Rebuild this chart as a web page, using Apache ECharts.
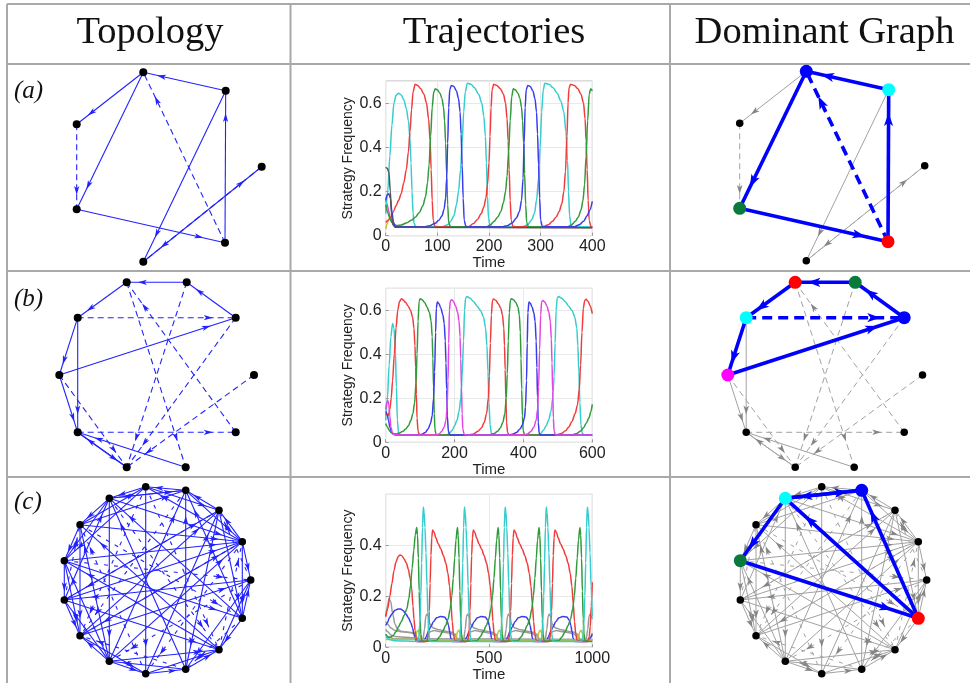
<!DOCTYPE html>
<html><head><meta charset="utf-8">
<script src="https://cdn.jsdelivr.net/npm/echarts@6/dist/echarts.min.js"></script>
<style>html,body{margin:0;padding:0;background:#fff}#c{width:970px;height:683px}</style>
</head><body><div id="c"></div>
<script>
// ---------- texts ----------
const headers = ['Topology', 'Trajectories', 'Dominant Graph'];
const rowLabels = ['(a)', '(b)', '(c)'];

// ---------- network layouts (local layout units) ----------
const aNodes = [[136.3,8.3],[218.7,26.7],[69.7,60.3],[254.7,102.7],[69.7,145.3],[218,178.7],[136.3,197.7]];
const aEdges = [[1,0,0],[0,2,0],[0,4,0],[2,4,1],[4,5,0],[5,1,0],[5,0,1],[1,6,0],[6,3,0],[3,6,1]];
const aDominant = {0:'#0000ff',1:'#00ffff',4:'#0a7a3c',5:'#ff0000'};

const bNodes = [[119.7,12.3],[179.7,12.3],[70.7,47.7],[228.7,47.7],[52.3,105],[247,105],[70.7,162.3],[228.7,162.3],[119.7,197.3],[178.7,197.3]];
const bEdges = [[1,0,0],[3,1,0],[0,2,0],[2,4,0],[4,3,0],[2,3,1],[2,6,0],[4,6,0],[9,6,0],[6,8,0],[8,6,0],[4,8,1],[6,7,1],[0,9,1],[7,0,1],[1,8,1],[3,8,1],[5,8,1]];
const bDominant = {0:'#ff0000',1:'#0a7a3c',2:'#00ffff',3:'#0000ff',4:'#ff00ff'};

const cNodes = [[138.7,10.7],[178.7,14.3],[212,34.3],[235.3,65.7],[243.7,104],[235.3,142.3],[212,173.7],[178.7,193.3],[138.7,197.7],[102.3,185.3],[73,159.7],[57.3,124],[57.3,84.7],[73,48.7],[102.3,22.3]];
const cEdges = [
 [1,0,0],[2,1,0],[3,2,0],[3,4,0],[5,4,0],[5,6,0],[7,6,0],[8,7,0],[9,8,0],[9,10,0],[11,10,0],[12,11,0],[13,12,0],[14,13,0],[0,14,0],
 [0,2,0],[1,3,0],[4,2,1],[3,5,0],[6,4,0],[5,7,1],[8,6,0],[7,9,0],[10,8,0],[9,11,0],[12,10,0],[11,13,1],[14,12,0],[13,0,0],[1,14,0],[14,1,0],
 [3,0,0],[2,5,0],[6,3,1],[4,7,0],[9,6,0],[7,10,1],[9,12,0],[13,10,0],[11,14,0],[13,1,0],[0,12,0],
 [0,8,0],[7,1,0],[13,3,0],[12,3,0],[11,3,0],[10,3,0],[9,3,0],[14,3,0],[11,2,0],[10,2,0],[9,1,0],[9,13,0],[8,2,0],[6,12,0],[6,13,0],[4,11,0],[10,4,0],[12,5,0],[5,1,0],[5,14,0],[7,14,0],[11,6,0],[13,5,1],[0,10,1],[3,8,1],[2,11,1],[4,9,1],[14,6,1],[1,10,1],[12,4,1],[8,13,1],[2,7,0],[14,9,0],[0,6,1],[3,10,1]
];
const cDominant = {1:'#0000ff',14:'#00ffff',12:'#0a7a3c',5:'#ff0000'};

// ---------- trajectories (time, frequency) ----------
const aCyan = [[0,0.10],[4,0.2],[8,0.36],[12,0.5],[16,0.6],[20,0.635],[25,0.645],[30,0.637],[35,0.615],[40,0.575],[44,0.52],[47,0.44],[49,0.33],[51,0.2],[53,0.1],[55,0.055],[58,0.042],[65,0.04],[110,0.04],[120,0.05],[126,0.065],[132,0.09],[137,0.14],[141,0.2],[145,0.3],[148,0.42],[151,0.56],[154,0.65],[158,0.69],[165,0.685],[172,0.67],[180,0.64],[186,0.6],[190,0.54],[193,0.45],[195,0.33],[197,0.18],[199,0.08],[202,0.045],[208,0.04],[265,0.04],[275,0.05],[282,0.07],[288,0.1],[292,0.16],[296,0.26],[299,0.4],[302,0.56],[305,0.66],[308,0.69],[316,0.685],[324,0.67],[332,0.645],[339,0.61],[345,0.56],[349,0.47],[352,0.34],[354,0.2],[356,0.09],[359,0.045],[365,0.04],[400,0.04]];
const aRed = [[0,0.06],[5,0.07],[10,0.085],[15,0.11],[20,0.135],[25,0.16],[30,0.19],[35,0.24],[40,0.3],[44,0.38],[47,0.47],[50,0.57],[53,0.65],[57,0.685],[62,0.68],[68,0.665],[74,0.64],[79,0.6],[83,0.53],[86,0.43],[88,0.3],[90,0.16],[92,0.07],[95,0.043],[100,0.04],[160,0.04],[170,0.055],[178,0.075],[185,0.1],[190,0.13],[194,0.17],[197,0.23],[200,0.33],[202,0.45],[204,0.58],[206,0.66],[209,0.685],[215,0.68],[222,0.665],[228,0.64],[232,0.6],[235,0.53],[237,0.43],[239,0.3],[241,0.16],[243,0.07],[246,0.043],[252,0.04],[305,0.04],[315,0.05],[323,0.065],[330,0.085],[336,0.11],[341,0.145],[345,0.2],[348,0.29],[351,0.45],[353,0.6],[355,0.67],[358,0.685],[365,0.68],[372,0.665],[378,0.64],[383,0.6],[386,0.53],[388,0.43],[390,0.3],[392,0.16],[394,0.07],[397,0.043],[400,0.04]];
const aGreen = [[0,0.14],[4,0.105],[8,0.078],[12,0.06],[16,0.05],[22,0.046],[30,0.048],[40,0.058],[50,0.07],[58,0.085],[65,0.105],[72,0.135],[77,0.175],[81,0.24],[84,0.32],[87,0.45],[90,0.58],[93,0.65],[96,0.665],[100,0.66],[105,0.645],[109,0.62],[112,0.58],[114,0.52],[116,0.42],[118,0.28],[120,0.14],[122,0.06],[125,0.042],[130,0.04],[195,0.04],[203,0.05],[210,0.065],[217,0.085],[223,0.11],[228,0.15],[232,0.2],[235,0.27],[238,0.38],[241,0.52],[244,0.63],[247,0.665],[251,0.66],[256,0.645],[260,0.62],[263,0.58],[265,0.52],[267,0.42],[269,0.28],[271,0.14],[273,0.06],[276,0.042],[281,0.04],[352,0.04],[360,0.05],[367,0.065],[373,0.085],[378,0.115],[382,0.16],[385,0.23],[388,0.36],[391,0.52],[394,0.64],[397,0.665],[400,0.655]];
const aBlue = [[0,0.16],[3,0.185],[6,0.19],[9,0.17],[12,0.11],[15,0.06],[19,0.042],[25,0.04],[75,0.04],[85,0.045],[95,0.055],[103,0.07],[109,0.09],[113,0.12],[116,0.17],[118,0.26],[120,0.42],[122,0.58],[124,0.66],[127,0.68],[132,0.675],[137,0.655],[141,0.62],[144,0.56],[146,0.46],[148,0.32],[150,0.17],[152,0.07],[155,0.043],[160,0.04],[225,0.04],[235,0.045],[245,0.058],[253,0.08],[259,0.11],[263,0.16],[266,0.26],[268,0.42],[270,0.58],[272,0.66],[275,0.68],[280,0.675],[285,0.655],[289,0.62],[292,0.56],[294,0.46],[296,0.32],[298,0.17],[300,0.07],[303,0.043],[308,0.04],[365,0.04],[375,0.05],[383,0.065],[390,0.09],[395,0.115],[400,0.155]];
const aBlack = [[0,0.31],[3,0.305],[6,0.29],[9,0.2],[11,0.1],[14,0.05],[18,0.038],[400,0.036]];
const aMagenta = [[0,0.16],[3,0.14],[6,0.11],[9,0.08],[12,0.06],[16,0.045],[22,0.038],[400,0.037]];
const aYellow = [[0,0.03],[3,0.055],[6,0.075],[9,0.08],[12,0.07],[15,0.055],[19,0.042],[25,0.038],[400,0.037]];

const bCyan = [[0,0.1],[5,0.2],[10,0.35],[15,0.48],[20,0.54],[24,0.52],[28,0.42],[31,0.25],[34,0.1],[37,0.045],[42,0.034],[175,0.033],[185,0.04],[193,0.055],[200,0.075],[207,0.1],[213,0.14],[218,0.2],[222,0.3],[226,0.46],[229,0.6],[232,0.655],[236,0.663],[245,0.655],[255,0.64],[265,0.62],[275,0.6],[284,0.57],[290,0.52],[294,0.44],[297,0.32],[300,0.18],[303,0.08],[307,0.04],[313,0.033],[440,0.033],[450,0.04],[458,0.055],[466,0.075],[473,0.1],[480,0.14],[485,0.2],[489,0.3],[492,0.45],[495,0.6],[498,0.655],[502,0.663],[511,0.655],[521,0.64],[531,0.62],[541,0.6],[549,0.57],[555,0.52],[558,0.44],[561,0.32],[564,0.18],[567,0.08],[571,0.04],[577,0.033],[600,0.033]];
const bRed = [[0,0.13],[3,0.125],[6,0.12],[9,0.13],[12,0.15],[16,0.2],[20,0.28],[25,0.4],[30,0.52],[35,0.6],[40,0.64],[46,0.653],[52,0.645],[58,0.635],[65,0.62],[72,0.6],[78,0.57],[82,0.52],[85,0.44],[87,0.34],[89,0.22],[91,0.11],[94,0.05],[98,0.034],[105,0.033],[240,0.033],[255,0.038],[268,0.05],[278,0.065],[286,0.09],[293,0.13],[298,0.2],[301,0.3],[304,0.45],[307,0.58],[310,0.645],[313,0.651],[320,0.645],[327,0.63],[334,0.61],[339,0.58],[343,0.52],[345,0.44],[347,0.33],[349,0.2],[351,0.09],[354,0.045],[358,0.034],[365,0.033],[495,0.033],[510,0.04],[522,0.052],[532,0.07],[541,0.095],[550,0.13],[557,0.17],[562,0.24],[566,0.35],[570,0.5],[574,0.61],[578,0.645],[582,0.65],[588,0.64],[594,0.62],[600,0.585]];
const bGreen = [[0,0.085],[5,0.07],[10,0.055],[15,0.045],[20,0.04],[30,0.038],[40,0.042],[50,0.05],[58,0.06],[66,0.075],[73,0.1],[79,0.13],[84,0.18],[88,0.27],[91,0.4],[94,0.55],[97,0.64],[100,0.653],[106,0.648],[113,0.635],[120,0.615],[127,0.59],[132,0.55],[135,0.48],[137,0.38],[139,0.25],[141,0.13],[143,0.06],[146,0.036],[152,0.033],[300,0.033],[315,0.04],[325,0.05],[333,0.065],[340,0.09],[346,0.13],[350,0.2],[353,0.31],[356,0.46],[359,0.59],[362,0.645],[365,0.653],[371,0.648],[378,0.635],[384,0.615],[388,0.58],[391,0.5],[393,0.38],[395,0.24],[397,0.12],[399,0.055],[403,0.035],[408,0.033],[540,0.033],[555,0.04],[565,0.05],[574,0.065],[582,0.085],[590,0.11],[596,0.14],[600,0.172]];
const bBlue = [[0,0.14],[4,0.13],[8,0.1],[12,0.07],[16,0.05],[22,0.037],[30,0.033],[95,0.033],[105,0.037],[115,0.045],[123,0.06],[130,0.085],[135,0.12],[139,0.2],[142,0.32],[145,0.5],[147,0.61],[150,0.638],[155,0.63],[160,0.61],[166,0.58],[170,0.54],[173,0.46],[175,0.36],[177,0.24],[179,0.12],[182,0.05],[186,0.034],[192,0.033],[355,0.033],[368,0.037],[380,0.045],[390,0.06],[397,0.08],[403,0.11],[406,0.16],[409,0.28],[411,0.45],[413,0.59],[416,0.638],[420,0.632],[425,0.615],[430,0.59],[434,0.55],[437,0.46],[439,0.34],[441,0.2],[443,0.09],[446,0.04],[450,0.033],[600,0.033]];
const bMagenta = [[0,0.15],[3,0.18],[6,0.19],[9,0.17],[12,0.12],[15,0.07],[19,0.045],[25,0.034],[145,0.033],[155,0.038],[163,0.05],[170,0.07],[175,0.1],[178,0.15],[181,0.28],[183,0.45],[185,0.6],[188,0.645],[192,0.648],[197,0.64],[203,0.62],[209,0.59],[213,0.55],[216,0.48],[218,0.38],[220,0.25],[222,0.13],[224,0.06],[228,0.035],[234,0.033],[400,0.033],[412,0.038],[422,0.05],[430,0.068],[437,0.1],[441,0.15],[444,0.25],[447,0.42],[450,0.58],[453,0.64],[457,0.645],[462,0.638],[468,0.62],[474,0.59],[478,0.55],[481,0.47],[483,0.36],[485,0.23],[487,0.11],[489,0.05],[493,0.034],[500,0.033],[600,0.033]];

const cRed = [[0,0.12],[10,0.15],[20,0.2],[30,0.25],[40,0.3],[50,0.335],[60,0.355],[70,0.362],[80,0.357],[90,0.345],[100,0.33],[110,0.305],[118,0.27],[126,0.23],[132,0.16],[137,0.11],[142,0.065],[147,0.035],[155,0.022],
 [199,0.022],[203,0.035],[207,0.07],[211,0.14],[215,0.25],[219,0.36],[223,0.43],[227,0.46],[235,0.45],[242,0.43],[255,0.405],[267,0.385],[279,0.36],[291,0.33],[301,0.29],[309,0.24],[316,0.17],[322,0.1],[328,0.05],[334,0.027],[342,0.022],
 [396,0.022],[400,0.035],[404,0.07],[408,0.14],[412,0.25],[416,0.36],[420,0.43],[424,0.46],[432,0.45],[439,0.43],[452,0.405],[464,0.385],[476,0.36],[488,0.33],[498,0.29],[506,0.24],[513,0.17],[519,0.1],[525,0.05],[531,0.027],[539,0.022],
 [593,0.022],[597,0.035],[601,0.07],[605,0.14],[609,0.25],[613,0.36],[617,0.43],[621,0.46],[629,0.45],[636,0.43],[649,0.405],[661,0.385],[673,0.36],[685,0.33],[695,0.29],[703,0.24],[710,0.17],[716,0.1],[722,0.05],[728,0.027],[736,0.022],
 [791,0.022],[795,0.035],[799,0.07],[803,0.14],[807,0.25],[811,0.36],[815,0.43],[819,0.46],[827,0.45],[834,0.43],[847,0.405],[859,0.385],[871,0.36],[883,0.33],[893,0.29],[901,0.24],[908,0.17],[914,0.1],[920,0.05],[926,0.027],[934,0.022],
 [978,0.022],[985,0.04],[990,0.08],[995,0.16],[1000,0.255]];
const cGreen = [[0,0.05],[10,0.04],[20,0.038],[35,0.045],[50,0.06],[62,0.08],[75,0.1],[90,0.125],[102,0.15],[112,0.19],[120,0.24],[128,0.31],[136,0.38],[143,0.44],[150,0.47],[154,0.44],[158,0.35],[162,0.22],[166,0.11],[170,0.05],[175,0.026],[185,0.022],
 [245,0.025],[260,0.04],[275,0.06],[290,0.085],[302,0.11],[312,0.15],[320,0.2],[327,0.27],[334,0.35],[340,0.42],[347,0.47],[351,0.44],[355,0.35],[359,0.22],[363,0.11],[367,0.05],[372,0.026],[382,0.022],
 [442,0.025],[457,0.04],[472,0.06],[487,0.085],[499,0.11],[509,0.15],[517,0.2],[524,0.27],[531,0.35],[537,0.42],[544,0.47],[548,0.44],[552,0.35],[556,0.22],[560,0.11],[564,0.05],[569,0.026],[579,0.022],
 [640,0.025],[655,0.04],[670,0.06],[685,0.085],[697,0.11],[707,0.15],[715,0.2],[722,0.27],[729,0.35],[735,0.42],[742,0.47],[746,0.44],[750,0.35],[754,0.22],[758,0.11],[762,0.05],[767,0.026],[777,0.022],
 [838,0.025],[853,0.04],[868,0.06],[883,0.085],[895,0.11],[905,0.15],[913,0.2],[920,0.27],[927,0.35],[933,0.42],[940,0.47],[944,0.44],[948,0.35],[952,0.22],[956,0.11],[960,0.05],[965,0.026],[975,0.022],[1000,0.022]];
const cCyan = [[0,0.04],[20,0.03],[40,0.025],[155,0.022],[160,0.04],[165,0.09],[170,0.2],[174,0.33],[178,0.47],[182,0.55],[186,0.53],[190,0.47],[195,0.37],[200,0.24],[205,0.12],[209,0.05],[214,0.025],[222,0.022],
 [354,0.022],[359,0.04],[364,0.09],[369,0.2],[373,0.33],[377,0.47],[381,0.55],[385,0.53],[389,0.47],[394,0.37],[399,0.24],[404,0.12],[408,0.05],[413,0.025],[421,0.022],
 [551,0.022],[556,0.04],[561,0.09],[566,0.2],[570,0.33],[574,0.47],[578,0.55],[582,0.53],[586,0.47],[591,0.37],[596,0.24],[601,0.12],[605,0.05],[610,0.025],[618,0.022],
 [750,0.022],[755,0.04],[760,0.09],[765,0.2],[769,0.33],[773,0.47],[777,0.55],[781,0.53],[785,0.47],[790,0.37],[795,0.24],[800,0.12],[804,0.05],[809,0.025],[817,0.022],
 [949,0.022],[954,0.04],[959,0.09],[964,0.2],[968,0.33],[972,0.47],[976,0.55],[980,0.53],[984,0.47],[989,0.37],[994,0.24],[1000,0.12]];
const cBlue = [[0,0.085],[8,0.095],[18,0.115],[30,0.13],[45,0.145],[60,0.15],[72,0.15],[85,0.143],[98,0.13],[110,0.115],[122,0.095],[130,0.075],[137,0.05],[143,0.03],[150,0.022],
 [185,0.022],[195,0.04],[206,0.06],[218,0.08],[231,0.1],[247,0.115],[265,0.12],[285,0.118],[297,0.105],[304,0.085],[310,0.06],[315,0.035],[322,0.022],
 [382,0.022],[392,0.04],[403,0.06],[415,0.08],[428,0.1],[444,0.115],[462,0.12],[482,0.118],[494,0.105],[501,0.085],[507,0.06],[512,0.035],[519,0.022],
 [580,0.022],[590,0.04],[601,0.06],[613,0.08],[626,0.1],[642,0.115],[660,0.12],[680,0.118],[692,0.105],[699,0.085],[705,0.06],[710,0.035],[717,0.022],
 [777,0.022],[787,0.04],[798,0.06],[810,0.08],[823,0.1],[839,0.115],[857,0.12],[877,0.118],[889,0.105],[896,0.085],[902,0.06],[907,0.035],[914,0.022],
 [975,0.022],[988,0.035],[1000,0.05]];
const cYellow = [[0,0.03],[140,0.03],[146,0.045],[151,0.062],[157,0.066],[163,0.055],[168,0.035],[175,0.028],[337,0.028],[343,0.045],[348,0.062],[354,0.066],[360,0.055],[365,0.035],[372,0.028],[534,0.028],[540,0.045],[545,0.062],[551,0.066],[557,0.055],[562,0.035],[569,0.028],[732,0.028],[738,0.045],[743,0.062],[749,0.066],[755,0.055],[760,0.035],[767,0.028],[929,0.028],[935,0.045],[940,0.062],[946,0.066],[952,0.055],[957,0.035],[964,0.028],[1000,0.028]];
const cGray1 = [[0,0.12],[8,0.16],[16,0.19],[24,0.18],[34,0.13],[45,0.09],[58,0.07],[75,0.062],[110,0.058],[140,0.055],[148,0.04],[155,0.028],[180,0.028],[188,0.07],[194,0.12],[200,0.13],[206,0.12],[214,0.09],[230,0.075],[260,0.068],[290,0.062],[320,0.058],[338,0.05],[348,0.03],[377,0.028],[385,0.07],[391,0.12],[397,0.13],[403,0.12],[411,0.09],[427,0.075],[457,0.068],[487,0.062],[517,0.058],[535,0.05],[545,0.03],[575,0.028],[583,0.07],[589,0.12],[595,0.13],[601,0.12],[609,0.09],[625,0.075],[655,0.068],[685,0.062],[715,0.058],[733,0.05],[743,0.03],[772,0.028],[780,0.07],[786,0.12],[792,0.13],[798,0.12],[806,0.09],[822,0.075],[852,0.068],[882,0.062],[912,0.058],[930,0.05],[940,0.03],[970,0.028],[978,0.07],[984,0.12],[990,0.13],[996,0.12],[1000,0.11]];
const cGray2 = [[0,0.1],[10,0.09],[25,0.075],[45,0.065],[80,0.06],[120,0.057],[145,0.05],[155,0.03],[185,0.028],[200,0.035],[215,0.06],[235,0.065],[270,0.06],[310,0.055],[335,0.045],[348,0.028],[382,0.028],[397,0.035],[412,0.06],[432,0.065],[467,0.06],[507,0.055],[532,0.045],[545,0.028],[579,0.028],[594,0.035],[609,0.06],[629,0.065],[664,0.06],[704,0.055],[729,0.045],[742,0.028],[776,0.028],[791,0.035],[806,0.06],[826,0.065],[861,0.06],[901,0.055],[926,0.045],[939,0.028],[973,0.028],[988,0.035],[1000,0.055]];
const cGray3 = [[0,0.07],[10,0.06],[25,0.048],[45,0.042],[80,0.04],[150,0.035],[170,0.026],[1000,0.026]];
const cGray4 = [[0,0.05],[15,0.04],[40,0.032],[1000,0.03]];

// ---------- axis ticks ----------
const trajXMax = [400, 600, 1000];
const trajXInterval = [100, 200, 500];
const trajYMax = [0.7, 0.7, 0.6];

// ---------- colours ----------
const COL = {red:'#f03c3c', green:'#2f9b3a', blue:'#3a3aef', cyan:'#35cdcd', magenta:'#e446e4', black:'#555555', yellow:'#c4c22a', gray:'#9a9a9a'};

const chart = echarts.init(document.getElementById('c'), null, {renderer:'canvas'});

const grids = [], xAxes = [], yAxes = [], series = [];
const NW = 284, NH = 206;
const rowTops = [64, 270, 476];
const domOffsets = [[663,-1],[668.5,0],[676,0]];
const trajTops = [81, 288.3, 494.3];
const trajH = [154.7, 154, 154.7];

function addNetGrid(left, top) {
  const gi = grids.length;
  grids.push({left:left, top:top, width:NW, height:NH, show:false});
  xAxes.push({gridIndex:gi, type:'value', min:0, max:NW, show:false});
  yAxes.push({gridIndex:gi, type:'value', min:0, max:NH, inverse:true, show:false});
  return gi;
}

function edgeData(nodes, edges, filter) {
  return edges.filter(filter).map(e => [nodes[e[0]][0], nodes[e[0]][1], nodes[e[1]][0], nodes[e[1]][1], e[2]]);
}

function edgeSeries(gi, data, st) {
  return {
    type:'custom', xAxisIndex:gi, yAxisIndex:gi, data:data, silent:true, z:st.z, clip:false, animation:false,
    renderItem: function(params, api) {
      const p1 = api.coord([api.value(0), api.value(1)]);
      const p2 = api.coord([api.value(2), api.value(3)]);
      const dashed = api.value(4) === 1;
      const dx = p2[0]-p1[0], dy = p2[1]-p1[1];
      const len = Math.hypot(dx, dy) || 1;
      const ux = dx/len, uy = dy/len, nx = -uy, ny = ux;
      const d = 0.12*len + st.tipOff;
      const tx = p2[0]-ux*d, ty = p2[1]-uy*d;
      const bx = tx-ux*st.al, by = ty-uy*st.al;
      const mx = tx-ux*st.al*0.75, my = ty-uy*st.al*0.75;
      return {type:'group', children:[
        {type:'line', shape:{x1:p1[0], y1:p1[1], x2:p2[0], y2:p2[1]},
         style:{stroke:st.color, lineWidth:st.w, lineDash: dashed ? st.dash : null, fill:null}},
        {type:'polygon', shape:{points:[[tx,ty],[bx+nx*st.hw, by+ny*st.hw],[mx,my],[bx-nx*st.hw, by-ny*st.hw]]},
         style:{fill:st.arrowColor || st.color, stroke:null}}
      ]};
    }
  };
}

function nodeSeries(gi, nodes, colorMap, baseSize, bigSize) {
  return {
    type:'scatter', xAxisIndex:gi, yAxisIndex:gi, silent:true, z:10, animation:false,
    data: nodes.map((p,k) => ({value:p, symbolSize: colorMap && colorMap[k] ? bigSize : baseSize,
      itemStyle:{color: colorMap && colorMap[k] ? colorMap[k] : '#000', opacity:1}}))
  };
}

function addTopology(row, nodes, edges, dotSize, dash) {
  const gi = addNetGrid(7, rowTops[row]);
  series.push(edgeSeries(gi, edgeData(nodes, edges, () => true),
    {color:'#2222ff', w:1.1, dash:dash, al:9, hw:2.6, tipOff:4, z:2}));
  series.push(nodeSeries(gi, nodes, null, dotSize, dotSize));
}

function addDominant(row, nodes, edges, dom, dotSize, bigSize, dash) {
  const off = domOffsets[row];
  const gi = addNetGrid(7+off[0], rowTops[row]+off[1]);
  const isDom = e => dom[e[0]] !== undefined && dom[e[1]] !== undefined;
  series.push(edgeSeries(gi, edgeData(nodes, edges, e => !isDom(e)),
    {color:'#a2a2a2', arrowColor:'#858585', w:1, dash:dash, al:9, hw:2.8, tipOff:4, z:2}));
  series.push(edgeSeries(gi, edgeData(nodes, edges, isDom),
    {color:'#0000ff', w:3.6, dash:[10,6], al:13, hw:4.6, tipOff:5, z:3}));
  series.push(nodeSeries(gi, nodes, dom, dotSize, bigSize));
}

function addTraj(row, lines) {
  const gi = grids.length;
  grids.push({left:385.7, top:trajTops[row], width:206.6, height:trajH[row], show:true, borderColor:'#b8b8b8', borderWidth:1, backgroundColor:'#fff'});
  const font = 'Liberation Sans';
  xAxes.push({gridIndex:gi, type:'value', min:0, max:trajXMax[row], interval:trajXInterval[row],
    name:'Time', nameLocation:'middle', nameGap:18,
    nameTextStyle:{fontSize:15, color:'#222', fontFamily:font},
    axisLine:{show:false}, axisTick:{show:true, inside:true, length:3, lineStyle:{color:'#999'}},
    axisLabel:{fontSize:16, color:'#222', margin:3, fontFamily:font, formatter: v => String(v)},
    splitLine:{show:true, lineStyle:{color:'#e9e9e9', width:1}}});
  yAxes.push({gridIndex:gi, type:'value', min:0, max:trajYMax[row], interval:0.2,
    name:'Strategy Frequency', nameLocation:'middle', nameGap:24,
    nameTextStyle:{fontSize:14, color:'#222', fontFamily:font},
    axisLine:{show:false}, axisTick:{show:true, inside:true, length:3, lineStyle:{color:'#999'}},
    axisLabel:{fontSize:16, color:'#222', margin:4, fontFamily:font, showMaxLabel:false,
      formatter: v => v === 0 ? '0' : v.toFixed(1)},
    splitLine:{show:true, lineStyle:{color:'#e9e9e9', width:1}}});
  lines.forEach(l => series.push({type:'line', xAxisIndex:gi, yAxisIndex:gi, data:l[0], showSymbol:false,
    smooth:0.3, smoothMonotone:'x', silent:true, animation:false, z:2,
    lineStyle:{color:l[1], width:1.5}}));
}

// row a
addTopology(0, aNodes, aEdges, 8, [6,4]);
addTraj(0, [[aYellow,COL.yellow],[aMagenta,COL.magenta],[aCyan,COL.cyan],[aRed,COL.red],[aGreen,COL.green],[aBlue,COL.blue],[aBlack,COL.black]]);
addDominant(0, aNodes, aEdges, aDominant, 7.5, 13, [6,4]);
// row b
addTopology(1, bNodes, bEdges, 8, [6,4]);
addTraj(1, [[bCyan,COL.cyan],[bRed,COL.red],[bGreen,COL.green],[bBlue,COL.blue],[bMagenta,COL.magenta]]);
addDominant(1, bNodes, bEdges, bDominant, 7.5, 13, [6,4]);
// row c
addTopology(2, cNodes, cEdges, 7.5, [4,6]);
addTraj(2, [[cGray4,'#8a8a8a'],[cGray3,COL.gray],[cGray2,COL.gray],[cGray1,COL.gray],[cBlue,COL.blue],[cYellow,COL.yellow],[cRed,COL.red],[cGreen,COL.green],[cCyan,COL.cyan]]);
addDominant(2, cNodes, cEdges, cDominant, 7.5, 13, [4,6]);

// table rules and texts
const ruleColor = '#a9a9a9';
const graphic = [];
[[7,4,970,4],[7,64,970,64],[7,271,970,271],[7,477,970,477],[7,4,7,683],[290.5,4,290.5,683],[670,4,670,683]].forEach(s => {
  graphic.push({type:'line', shape:{x1:s[0], y1:s[1], x2:s[2], y2:s[3]}, style:{stroke:ruleColor, lineWidth:2}, silent:true, z:0});
});
const headerX = [150, 494, 824.5];
headers.forEach((h,i) => graphic.push({type:'text', x:headerX[i], y:33, silent:true, z:5,
  style:{text:h, fill:'#111', font:'38.5px "Liberation Serif"', align:'center', verticalAlign:'middle'}}));
const labelY = [91, 299, 502];
rowLabels.forEach((t,i) => graphic.push({type:'text', x:14, y:labelY[i], silent:true, z:5,
  style:{text:t, fill:'#111', font:'italic 25px "Liberation Serif"', align:'left', verticalAlign:'middle'}}));

chart.setOption({
  animation:false,
  backgroundColor:'#ffffff',
  grid:grids, xAxis:xAxes, yAxis:yAxes, series:series, graphic:graphic
});
</script>
</body></html>
